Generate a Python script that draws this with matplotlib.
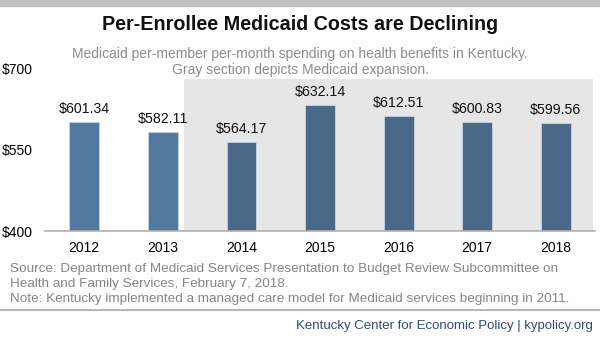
import matplotlib.pyplot as plt
from matplotlib.patches import Rectangle

years = ["2012", "2013", "2014", "2015", "2016", "2017", "2018"]
costs = [601.34, 582.11, 564.17, 632.14, 612.51, 600.83, 599.56]
yticks = [400, 550, 700]

plt.rcParams["font.family"] = ["Liberation Sans", "DejaVu Sans"]

fig = plt.figure(figsize=(6, 3.42), dpi=100)
ax = fig.add_axes([45 / 600, 1 - 231 / 342, 550 / 600, 163 / 342])

x = list(range(len(years)))
colors = ["#557aa0" if i < 2 else "#4a6888" for i in x]

# gray section for expansion years
ax.axvspan(1.27, 6.47, ymin=0, ymax=(680 - 400) / 300, color="#e6e6e6", zorder=0, lw=0)

bars = ax.bar(x, [c - 400 for c in costs], bottom=400, width=0.38,
              color=colors, edgecolor="#c8d3df", linewidth=0.6, zorder=2)

for bar, c in zip(bars, costs):
    ax.text(bar.get_x() + bar.get_width() / 2, c + 11, f"${c:.2f}",
            ha="center", va="bottom", fontsize=10.2, color="#111111", zorder=3)

ax.set_xlim(-0.5, 6.5)
ax.set_ylim(400, 700)
ax.set_xticks(x)
ax.set_xticklabels(years, fontsize=10)
ax.set_yticks(yticks)
ax.set_yticklabels([f"${t}" for t in yticks], fontsize=10)
ax.tick_params(axis="x", length=0, pad=7)
ax.tick_params(axis="y", length=0, pad=8.5)
for s in ["top", "right", "left"]:
    ax.spines[s].set_visible(False)
ax.spines["bottom"].set_color("#b0b0b0")
ax.spines["bottom"].set_linewidth(1.2)

# header band and titles
fig.patches.append(Rectangle((0, 1 - 6 / 342), 1, 6 / 342, transform=fig.transFigure,
                             color="#c0c0c0", zorder=0))
fig.text(0.5, 1 - 25 / 342, "Per-Enrollee Medicaid Costs are Declining",
         ha="center", va="center", fontsize=14.2, fontweight="bold", color="#111111")
fig.text(0.5, 1 - 62 / 342,
         "Medicaid per-member per-month spending on health benefits in Kentucky.\n"
         "Gray section depicts Medicaid expansion.",
         ha="center", va="center", fontsize=10, color="#8c8c8c", linespacing=1.25)

fig.text(10 / 600, 1 - 284 / 342,
         "Source: Department of Medicaid Services Presentation to Budget Review Subcommittee on\n"
         "Health and Family Services, February 7, 2018.\n"
         "Note: Kentucky implemented a managed care model for Medicaid services beginning in 2011.",
         ha="left", va="center", fontsize=9.7, color="#858585", linespacing=1.33)
fig.add_artist(plt.Line2D([0, 1], [1 - 310 / 342] * 2, transform=fig.transFigure,
                          color="#a8a8a8", lw=1.2))
fig.text(593 / 600, 1 - 326 / 342, "Kentucky Center for Economic Policy | kypolicy.org",
         ha="right", va="center", fontsize=9.5, color="#2f4b7c")

fig.savefig("out.png", dpi=100)
